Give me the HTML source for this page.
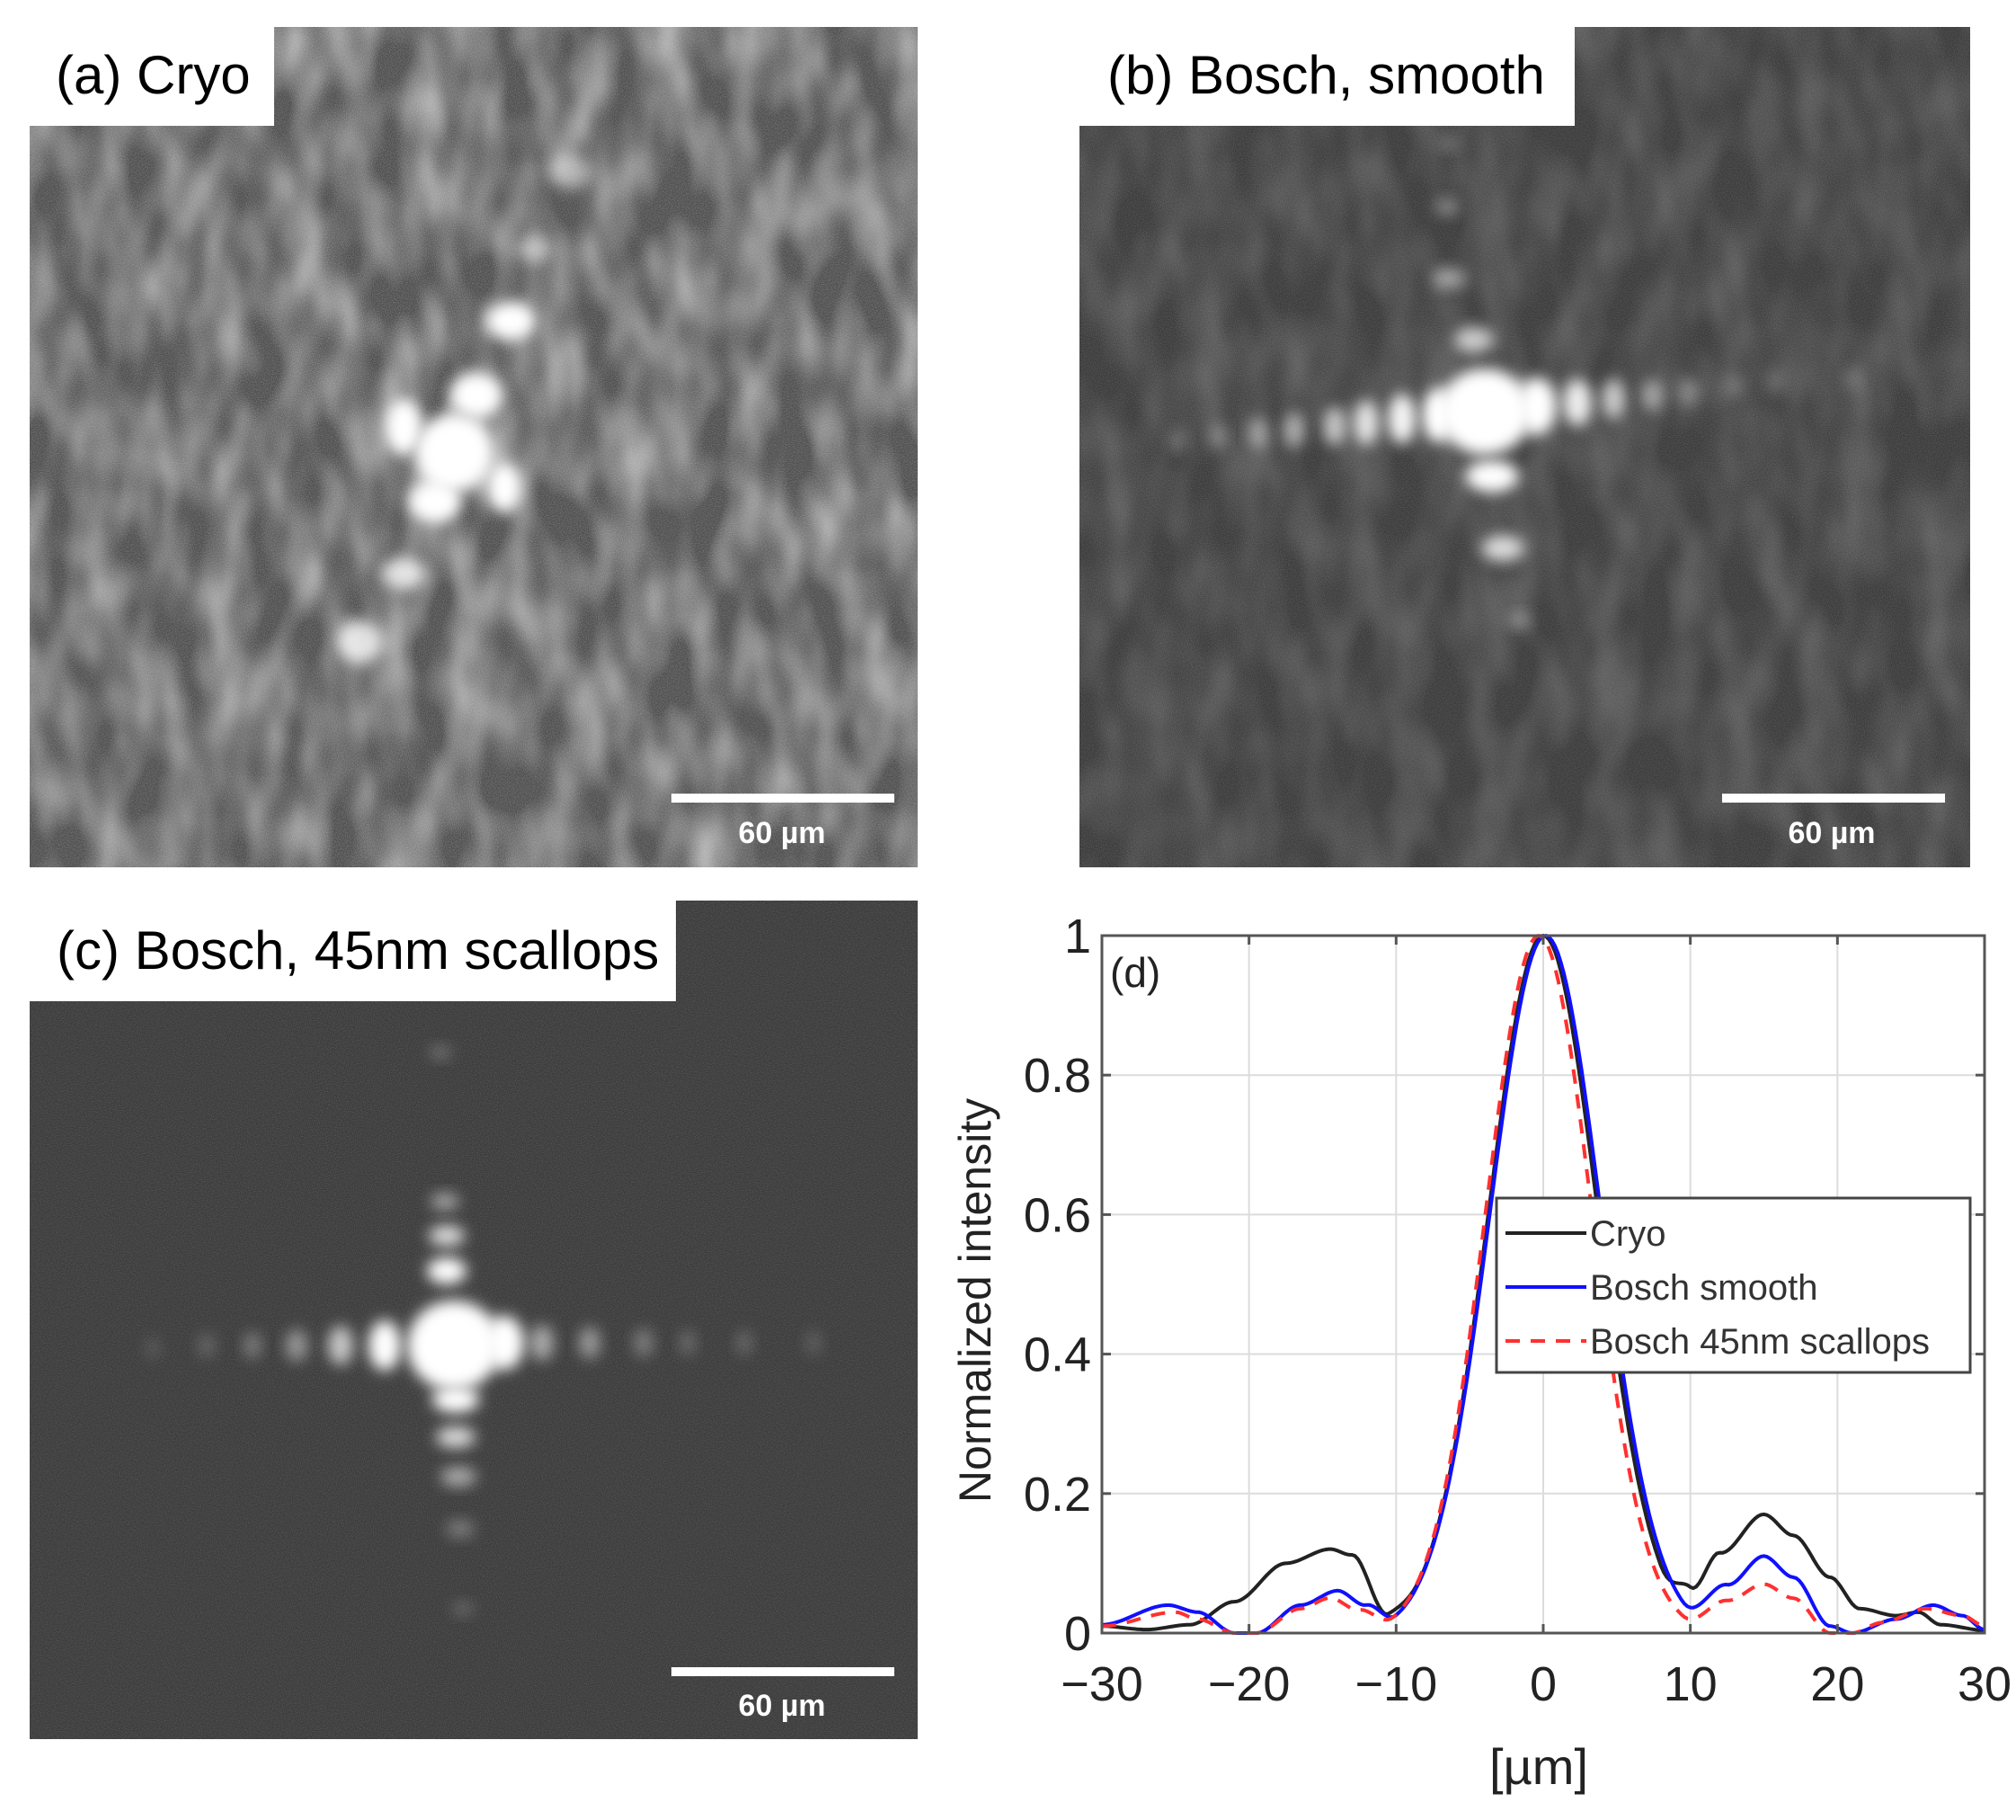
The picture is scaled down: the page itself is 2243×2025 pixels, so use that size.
<!DOCTYPE html>
<html><head><meta charset="utf-8"><style>
html,body{margin:0;padding:0;background:#fff;}
svg{display:block;}
text{font-family:"Liberation Sans",sans-serif;}
</style></head><body>
<svg id="s" width="2243" height="2025" viewBox="0 0 2243 2025" xmlns="http://www.w3.org/2000/svg">
<defs>
<filter id="b8" x="-50%" y="-50%" width="200%" height="200%"><feGaussianBlur stdDeviation="8"/></filter>
<filter id="noise"><feTurbulence type="fractalNoise" baseFrequency="0.9" numOctaves="1" seed="3"/><feColorMatrix type="matrix" values="0 0 0 0 1  0 0 0 0 1  0 0 0 0 1  0 0 0 -2.2 1.35"/></filter>
<filter id="blotch"><feTurbulence type="fractalNoise" baseFrequency="0.022 0.011" numOctaves="2" seed="7"/><feColorMatrix type="matrix" values="0 0 0 0 1  0 0 0 0 1  0 0 0 0 1  1.6 0 0 0 -0.5"/></filter>
<clipPath id="ca"><rect x="33" y="30" width="988" height="935"/></clipPath>
<clipPath id="cb"><rect x="1201" y="30" width="991" height="935"/></clipPath>
<clipPath id="cc"><rect x="33" y="1002" width="988" height="933"/></clipPath>
</defs>
<g clip-path="url(#ca)">
<rect x="33" y="30" width="988" height="935" fill="#505050"/>
<rect x="33" y="30" width="988" height="935" filter="url(#blotch)" opacity="0.6"/>
<g id="ga" fill="#fff"></g>
<rect x="33" y="30" width="988" height="935" filter="url(#noise)" opacity="0.25"/>
</g>
<rect x="33" y="30" width="272" height="110" fill="#fff"/>
<text x="62" y="104" font-size="60">(a) Cryo</text>
<rect x="747" y="883" width="248" height="10" fill="#fff"/>
<text x="870" y="938" font-size="34" font-weight="bold" fill="#fff" text-anchor="middle">60 µm</text>
<g clip-path="url(#cb)">
<rect x="1201" y="30" width="991" height="935" fill="#3d3d3d"/>
<rect x="1201" y="30" width="991" height="935" filter="url(#blotch)" opacity="0.2"/>
<g id="gb" fill="#fff"></g>
<rect x="1201" y="30" width="991" height="935" filter="url(#noise)" opacity="0.15"/>
</g>
<rect x="1201" y="30" width="551" height="110" fill="#fff"/>
<text x="1232" y="104" font-size="60">(b) Bosch, smooth</text>
<rect x="1916" y="883" width="248" height="10" fill="#fff"/>
<text x="2038" y="938" font-size="34" font-weight="bold" fill="#fff" text-anchor="middle">60 µm</text>
<g clip-path="url(#cc)">
<rect x="33" y="1002" width="988" height="933" fill="#3c3c3c"/>
<g id="gc" fill="#fff"></g>
<rect x="33" y="1002" width="988" height="933" filter="url(#noise)" opacity="0.15"/>
</g>
<rect x="33" y="1002" width="719" height="112" fill="#fff"/>
<text x="63" y="1078" font-size="60">(c) Bosch, 45nm scallops</text>
<rect x="747" y="1855" width="248" height="10" fill="#fff"/>
<text x="870" y="1909" font-size="34" font-weight="bold" fill="#fff" text-anchor="middle">60 µm</text>
<g id="gd"></g>
</svg>
<script>
var NS="http://www.w3.org/2000/svg";
function el(p,t,a,txt){var e=document.createElementNS(NS,t);for(var k in a)e.setAttribute(k,a[k]);if(txt!==undefined)e.textContent=txt;p.appendChild(e);return e;}
function blob(g,x,y,rx,ry,op){el(g,"ellipse",{cx:x,cy:y,rx:rx,ry:ry,opacity:op,filter:"url(#b8)"});}
var ga=document.getElementById("ga");
blob(ga,505,504,44,44,1);blob(ga,530,440,30,26,1);blob(ga,449,475,22,32,1);blob(ga,484,558,30,24,1);blob(ga,561,542,20,28,1);
blob(ga,568,357,28,22,1);blob(ga,449,638,25,18,0.8);blob(ga,400,714,26,24,0.8);blob(ga,635,191,25,20,0.5);blob(ga,595,276,20,16,0.5);
var gb=document.getElementById("gb");
blob(gb,1652,458,52,48,1);
[[1600,462,18,30,1],[1560,466,16,28,0.95],[1520,470,14,25,0.85],[1485,474,13,22,0.7],[1440,478,12,20,0.55],[1400,482,11,18,0.45],[1355,486,10,16,0.35],[1310,490,10,15,0.25],
[1710,452,22,32,1],[1755,448,16,26,0.9],[1795,444,13,22,0.7],[1838,440,12,18,0.5],[1880,436,11,16,0.35],[1930,430,10,14,0.25],[1975,425,9,13,0.2],[2060,420,9,14,0.2],
[1660,530,30,18,1],[1672,610,24,15,0.8],[1640,378,22,14,0.7],[1612,310,18,12,0.5],[1610,230,14,10,0.35],[1612,160,12,8,0.25],[1690,690,14,9,0.3]].forEach(function(a){blob(gb,a[0],a[1],a[2],a[3],a[4]);});
var gc=document.getElementById("gc");
blob(gc,505,1497,52,50,1);
[[428,1497,18,28,1],[561,1494,22,30,1],[379,1497,14,22,0.7],[603,1494,13,20,0.55],[330,1497,12,18,0.45],[656,1494,12,18,0.45],[281,1497,10,15,0.3],[716,1494,11,16,0.3],[765,1494,9,14,0.22],[828,1494,9,14,0.2],[905,1494,9,14,0.15],[230,1497,10,14,0.18],[170,1500,9,12,0.12],
[497,1414,22,15,1],[497,1375,20,12,0.8],[495,1337,16,10,0.5],[490,1171,12,8,0.25],[475,1060,12,8,0.2],
[507,1557,26,15,1],[507,1599,22,12,0.8],[510,1643,20,11,0.55],[512,1701,16,10,0.3],[515,1790,12,8,0.2]].forEach(function(a){blob(gc,a[0],a[1],a[2],a[3],a[4]);});
var gd=document.getElementById("gd");
var L=1226,R=2208,T=1041,B=1817;
function X(v){return L+(v+30)/60*(R-L);} function Y(v){return B-v*(B-T);}
for(var i=-30;i<=30;i+=10){el(gd,"line",{x1:X(i),x2:X(i),y1:T,y2:B,stroke:"#dcdcdc","stroke-width":2});}
for(var j=0;j<=5;j++){var v=j*0.2;el(gd,"line",{x1:L,x2:R,y1:Y(v),y2:Y(v),stroke:"#dcdcdc","stroke-width":2});}
function interp(pts,x){if(x<=pts[0][0])return pts[0][1];for(var k=1;k<pts.length;k++){if(x<=pts[k][0]){var a=pts[k-1],b=pts[k];var t=(x-a[0])/(b[0]-a[0]);t=t*t*(3-2*t);return a[1]+(b[1]-a[1])*t;}}return pts[pts.length-1][1];}
function curve(sh,s,lobes,col,dash){var d="";for(var x=-30;x<=30.001;x+=0.2){var g=Math.exp(-(x-sh)*(x-sh)/(2*s*s));var y=g+interp(lobes,x);d+=(d?"L":"M")+X(x).toFixed(1)+","+Y(Math.min(y,1)).toFixed(1);}
var a={d:d,fill:"none",stroke:col,"stroke-width":4};if(dash)a["stroke-dasharray"]=dash;el(gd,"path",a);}
curve(0,3.7,[[-30,0.01],[-27,0.005],[-24,0.012],[-21,0.045],[-17.5,0.1],[-14.5,0.12],[-13,0.11],[-10.5,0.01],[-8,0.0],[8,0.0],[10,0.04],[12,0.11],[15,0.17],[17,0.14],[19.5,0.08],[21.5,0.035],[24,0.025],[25.5,0.03],[27,0.012],[30,0.004]],"#222");
curve(0.15,3.75,[[-30,0.012],[-25.5,0.04],[-23.5,0.03],[-21,0.0],[-19.5,0.0],[-16.5,0.04],[-14,0.06],[-12,0.035],[-10,0.0],[9.5,0.0],[12.5,0.065],[15,0.11],[17,0.08],[19.5,0.01],[21,0.0],[24,0.02],[26.5,0.04],[28.5,0.025],[30,0.005]],"#1010ff");
curve(-0.3,3.6,[[-30,0.01],[-25,0.03],[-23.5,0.02],[-21,0.0],[-19.5,0.0],[-16.5,0.035],[-14.5,0.05],[-12.5,0.03],[-10.2,0.0],[9.5,0.0],[12.5,0.045],[15,0.07],[17,0.05],[19.5,0.0],[21,0.0],[23,0.015],[26,0.035],[28.5,0.025],[30,0.01]],"#ff3030","16,12");
el(gd,"rect",{x:L,y:T,width:R-L,height:B-T,fill:"none",stroke:"#555","stroke-width":3});
for(var i=-30;i<=30;i+=10){el(gd,"line",{x1:X(i),x2:X(i),y1:B,y2:B-10,stroke:"#555","stroke-width":3});el(gd,"line",{x1:X(i),x2:X(i),y1:T,y2:T+10,stroke:"#555","stroke-width":3});
 el(gd,"text",{x:X(i),y:1892,"font-size":54,"text-anchor":"middle",fill:"#222"},(i<0?"\u2212"+(-i):""+i));}
var yl=["0","0.2","0.4","0.6","0.8","1"];
for(var j=0;j<=5;j++){el(gd,"line",{x1:L,x2:L+10,y1:Y(j*0.2),y2:Y(j*0.2),stroke:"#555","stroke-width":3});el(gd,"line",{x1:R,x2:R-10,y1:Y(j*0.2),y2:Y(j*0.2),stroke:"#555","stroke-width":3});
 el(gd,"text",{x:1214,y:Y(j*0.2)+19,"font-size":54,"text-anchor":"end",fill:"#222"},yl[j]);}
el(gd,"text",{x:1235,y:1098,"font-size":46,fill:"#222"},"(d)");
el(gd,"text",{x:1712,y:1985,"font-size":56,"text-anchor":"middle",fill:"#222"},"[µm]");
el(gd,"text",{x:0,y:0,"font-size":50,"text-anchor":"middle",fill:"#222",transform:"translate(1102,1447) rotate(-90)"},"Normalized intensity");
el(gd,"rect",{x:1665,y:1333,width:527,height:194,fill:"#fff",stroke:"#444","stroke-width":3});
var lg=[["Cryo","#222",null],["Bosch smooth","#1010ff",null],["Bosch 45nm scallops","#ff3030","16,12"]];
lg.forEach(function(e,k){var y=1372+k*60;var a={x1:1675,x2:1765,y1:y,y2:y,stroke:e[1],"stroke-width":4};if(e[2])a["stroke-dasharray"]=e[2];el(gd,"line",a);
 el(gd,"text",{x:1769,y:y+14,"font-size":40,fill:"#333"},e[0]);});
</script>
</body></html>
